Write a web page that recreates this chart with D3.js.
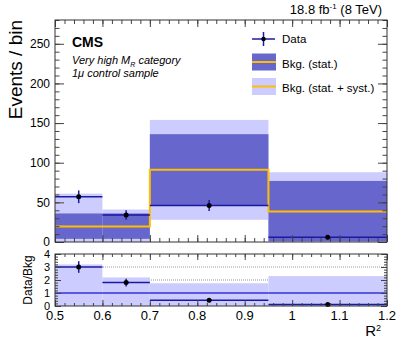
<!DOCTYPE html>
<html>
<head>
<meta charset="utf-8">
<script src="https://cdn.jsdelivr.net/npm/d3@7"></script>
<style>
  body { margin: 0; background: #fff; }
  svg { font-family: "Liberation Sans", Arial, sans-serif; }
  .axis path { display: none; }
  .axis line { stroke: #444; }
  .axis text { fill: #000; }
</style>
</head>
<body>
<svg id="chart" width="399" height="338"></svg>
<script>
// bins in R^2
var binEdges   = [0.5, 0.6, 0.7, 0.95, 1.2];
// background prediction (central value, stat band, stat+syst band)
var bkgCentral = [19.6, 19.6, 91, 38.5];
var statLow    = [4, 4, 46, 1];
var statHigh   = [36, 36, 136, 77];
var systLow    = [0, 0, 28, 0];
var systHigh   = [61, 41, 154, 88];
// data
var dataX      = [0.55, 0.65, 0.825, 1.075];
var dataY      = [57, 34, 46, 6];
var dataErr    = [8, 6, 7, 2.5];
// ratio panel
var ratioY     = [3.0, 1.8, 0.45, 0.12];
var ratioErr   = [0.45, 0.3, 0.06, 0.04];
var ratioBand  = [3.2, 2.2, 1.75, 2.3];
var xTicks     = [0.5, 0.6, 0.7, 0.8, 0.9, 1.0, 1.1, 1.2];
var yTicks     = [0, 50, 100, 150, 200, 250];
var rTicks     = [0, 1, 2, 3, 4];

var cLight = "#ccccff", cDark = "#6666cc", cYellow = "#ffbf00", cData = "#1a1aa0";

var svg = d3.select("#chart");

var x = d3.scaleLinear().domain([0.5, 1.2]).range([55, 387]);
var y = d3.scaleLinear().domain([0, 280]).range([242, 20]);
var yr = d3.scaleLinear().domain([0, 4]).range([306, 254]);

var bins = d3.range(binEdges.length - 1);

function rng(a, b, s) { return d3.range(a, b + s / 2, s).map(function (v) { return +v.toFixed(4); }); }

// ---------------- upper panel ----------------
var gTop = svg.append("g");

gTop.selectAll(".syst").data(bins).join("rect")
    .attr("x", function (i) { return x(binEdges[i]); })
    .attr("width", function (i) { return x(binEdges[i + 1]) - x(binEdges[i]); })
    .attr("y", function (i) { return y(systHigh[i]); })
    .attr("height", function (i) { return y(systLow[i]) - y(systHigh[i]); })
    .attr("fill", cLight);

gTop.selectAll(".stat").data(bins).join("rect")
    .attr("x", function (i) { return x(binEdges[i]); })
    .attr("width", function (i) { return x(binEdges[i + 1]) - x(binEdges[i]); })
    .attr("y", function (i) { return y(statHigh[i]); })
    .attr("height", function (i) { return y(statLow[i]) - y(statHigh[i]); })
    .attr("fill", cDark);

// central value as a step line
var steps = [];
bins.forEach(function (i) {
    steps.push([binEdges[i], bkgCentral[i]]);
    steps.push([binEdges[i + 1], bkgCentral[i]]);
});
gTop.append("path")
    .attr("d", d3.line().x(function (d) { return x(d[0]); }).y(function (d) { return y(d[1]); })(steps))
    .attr("fill", "none").attr("stroke", cYellow).attr("stroke-width", 2);

function drawData(g, xs, ys, errs, yScale) {
    bins.forEach(function (i) {
        g.append("line")
            .attr("x1", x(binEdges[i])).attr("x2", x(binEdges[i + 1]))
            .attr("y1", yScale(ys[i])).attr("y2", yScale(ys[i]))
            .attr("stroke", cData).attr("stroke-width", 1.5);
        g.append("line")
            .attr("x1", x(xs[i])).attr("x2", x(xs[i]))
            .attr("y1", yScale(ys[i] - errs[i])).attr("y2", yScale(ys[i] + errs[i]))
            .attr("stroke", cData).attr("stroke-width", 1.5);
        g.append("circle")
            .attr("cx", x(xs[i])).attr("cy", yScale(ys[i])).attr("r", 2.5)
            .attr("fill", "#000");
    });
}
drawData(gTop, dataX, dataY, dataErr, y);

// axes (ROOT style, ticks pointing inward)
function frameAxes(g, yScale, yMajor, yMinor, x0, x1, y0, y1, yLabelSize, yLabelFmt, xMajorLen, xMinorLen, yMajorLen, yMinorLen) {
    g.append("g").attr("class", "axis").attr("transform", "translate(0," + y0 + ")")
        .call(d3.axisBottom(x).tickValues(rng(0.5, 1.2, 0.02)).tickFormat("").tickSize(-xMinorLen));
    g.append("g").attr("class", "axis").attr("transform", "translate(0," + y0 + ")")
        .call(d3.axisBottom(x).tickValues(xTicks).tickFormat("").tickSize(-xMajorLen));
    g.append("g").attr("class", "axis").attr("transform", "translate(0," + y1 + ")")
        .call(d3.axisTop(x).tickValues(rng(0.5, 1.2, 0.02)).tickFormat("").tickSize(-xMinorLen));
    g.append("g").attr("class", "axis").attr("transform", "translate(0," + y1 + ")")
        .call(d3.axisTop(x).tickValues(xTicks).tickFormat("").tickSize(-xMajorLen));

    g.append("g").attr("class", "axis").attr("transform", "translate(" + x0 + ",0)")
        .call(d3.axisLeft(yScale).tickValues(yMinor).tickFormat("").tickSize(-yMinorLen));
    g.append("g").attr("class", "axis").attr("transform", "translate(" + x0 + ",0)")
        .call(d3.axisLeft(yScale).tickValues(yMajor).tickFormat(yLabelFmt).tickSize(-yMajorLen).tickPadding(5))
        .selectAll("text").style("font-size", yLabelSize + "px");
    g.append("g").attr("class", "axis").attr("transform", "translate(" + x1 + ",0)")
        .call(d3.axisRight(yScale).tickValues(yMinor).tickFormat("").tickSize(-yMinorLen));
    g.append("g").attr("class", "axis").attr("transform", "translate(" + x1 + ",0)")
        .call(d3.axisRight(yScale).tickValues(yMajor).tickFormat("").tickSize(-yMajorLen));

    g.append("rect")
        .attr("x", x0).attr("y", y1).attr("width", x1 - x0).attr("height", y0 - y1)
        .attr("fill", "none").attr("stroke", "#333").attr("stroke-width", 1);
}

frameAxes(gTop, y, yTicks, rng(0, 280, 10), 55, 387, 242, 20, 12, d3.format("d"), 7, 4, 9, 4.5);

svg.append("text").attr("transform", "translate(22,20) rotate(-90)")
    .attr("text-anchor", "end").style("font-size", "19px").text("Events / bin");

svg.append("text").attr("x", 382).attr("y", 14).attr("text-anchor", "end")
    .style("font-size", "13px")
    .html('18.8 fb<tspan dy="-5" style="font-size:8px">-1</tspan><tspan dy="5"> (8 TeV)</tspan>');

svg.append("text").attr("x", 72).attr("y", 47).style("font-size", "14px")
    .style("font-weight", "bold").text("CMS");
svg.append("text").attr("x", 72).attr("y", 64).style("font-size", "11px").style("font-style", "italic")
    .html('Very high M<tspan dy="3" style="font-size:7px">R</tspan><tspan dy="-3"> category</tspan>');
svg.append("text").attr("x", 72).attr("y", 77).style("font-size", "11px").style("font-style", "italic")
    .text("1\u03bc control sample");

// legend
var lg = svg.append("g");
lg.append("line").attr("x1", 252).attr("x2", 275).attr("y1", 39).attr("y2", 39)
    .attr("stroke", cData).attr("stroke-width", 1.5);
lg.append("line").attr("x1", 263.5).attr("x2", 263.5).attr("y1", 32).attr("y2", 46)
    .attr("stroke", cData).attr("stroke-width", 1.5);
lg.append("circle").attr("cx", 263.5).attr("cy", 39).attr("r", 2.2).attr("fill", "#000");
lg.append("rect").attr("x", 252).attr("y", 53.5).attr("width", 24).attr("height", 17).attr("fill", cDark);
lg.append("line").attr("x1", 252).attr("x2", 276).attr("y1", 62).attr("y2", 62)
    .attr("stroke", cYellow).attr("stroke-width", 2);
lg.append("rect").attr("x", 252).attr("y", 78).attr("width", 24).attr("height", 17).attr("fill", cLight);
lg.append("line").attr("x1", 252).attr("x2", 276).attr("y1", 86.5).attr("y2", 86.5)
    .attr("stroke", cYellow).attr("stroke-width", 2);
var legendText = ["Data", "Bkg. (stat.)", "Bkg. (stat. + syst.)"];
lg.selectAll(".lt").data(legendText).join("text")
    .attr("x", 282).attr("y", function (d, i) { return 43 + i * 24.5; })
    .style("font-size", "11.5px").text(function (d) { return d; });

// ---------------- ratio panel ----------------
var gBot = svg.append("g");

[1, 2, 3].forEach(function (v) {
    gBot.append("line").attr("x1", 55).attr("x2", 387).attr("y1", yr(v)).attr("y2", yr(v))
        .attr("stroke", "#999").attr("stroke-width", 1).attr("stroke-dasharray", "1,1");
});

gBot.selectAll(".rband").data(bins).join("rect")
    .attr("x", function (i) { return x(binEdges[i]); })
    .attr("width", function (i) { return x(binEdges[i + 1]) - x(binEdges[i]); })
    .attr("y", function (i) { return yr(ratioBand[i]); })
    .attr("height", function (i) { return yr(0) - yr(ratioBand[i]); })
    .attr("fill", cLight);

gBot.append("line").attr("x1", 55).attr("x2", 387).attr("y1", yr(1)).attr("y2", yr(1))
    .attr("stroke", "#3333dd").attr("stroke-width", 1.5);

drawData(gBot, dataX, ratioY, ratioErr, yr);

frameAxes(gBot, yr, rTicks, rng(0, 4, 0.2), 55, 387, 306, 254, 11, d3.format("d"), 6, 3, 6, 3);

gBot.append("g").selectAll("text").data(xTicks).join("text")
    .attr("x", function (d) { return x(d); }).attr("y", 320)
    .attr("text-anchor", "middle").style("font-size", "13px")
    .text(function (d) { return d3.format("")(+d.toFixed(1)); });

svg.append("text").attr("transform", "translate(32,280) rotate(-90)")
    .attr("text-anchor", "middle").style("font-size", "12px").text("Data/Bkg");

svg.append("text").attr("x", 381).attr("y", 336).attr("text-anchor", "end")
    .style("font-size", "15px")
    .html('R<tspan dy="-5" style="font-size:9px">2</tspan>');
</script>
</body>
</html>
